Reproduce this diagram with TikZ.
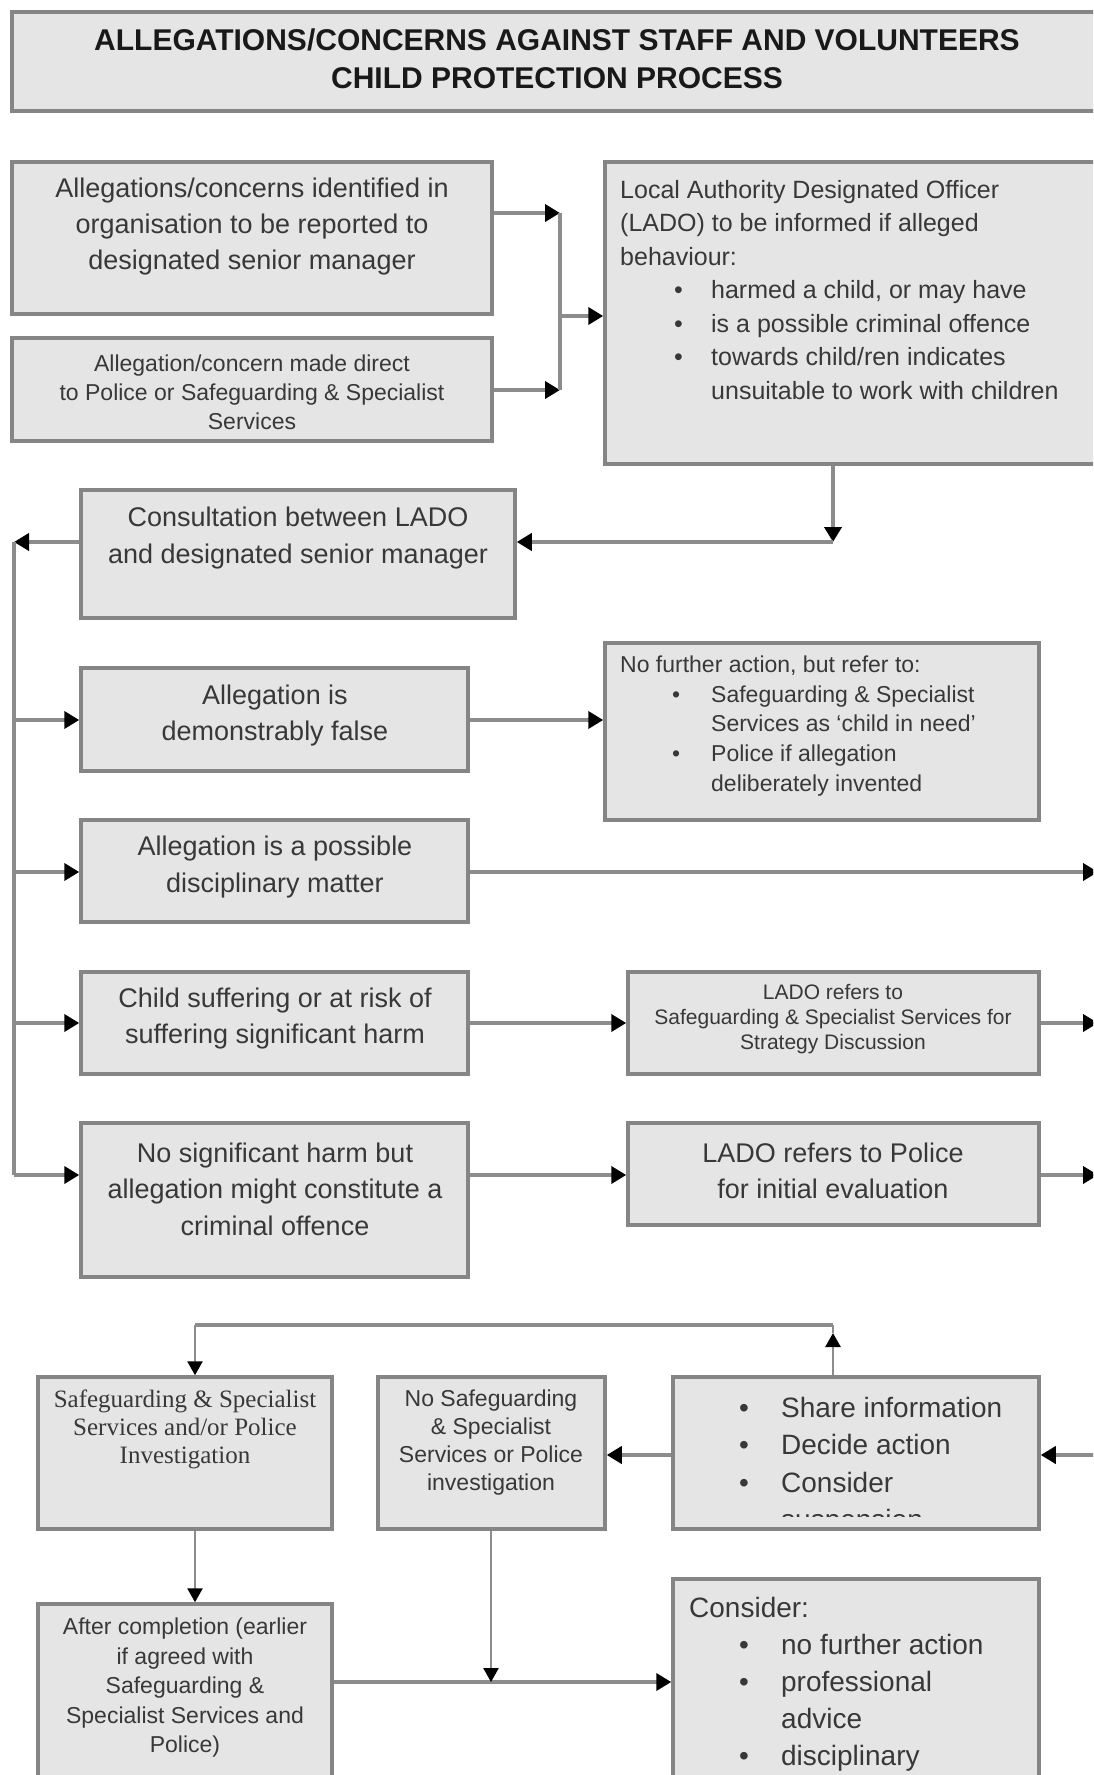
\documentclass[tikz,border=0pt]{standalone}
\usepackage{fontspec}
\setmainfont{Liberation Sans}
\newfontfamily\serifface{Liberation Serif}
\usetikzlibrary{arrows.meta,fit}
\definecolor{boxfill}{HTML}{E5E5E5}
\definecolor{boxline}{HTML}{858585}
\definecolor{txt}{HTML}{383838}
\definecolor{conngray}{HTML}{8C8C8C}
\newcommand{\fs}[2]{\fontsize{#1}{#2}\selectfont}
\newcommand{\bul}[2]{\hspace*{#1}\makebox[#2][l]{\textbullet}}
\begin{document}
\begin{tikzpicture}[x=1pt,y=-1pt,
  box/.style={draw=boxline, fill=boxfill, line width=3.5pt, inner sep=0pt, rectangle},
  t/.style={text=txt, inner sep=0pt, align=center},
  tl/.style={text=txt, inner sep=0pt, align=left, anchor=west},
  conn/.style={draw=conngray, line width=4.5pt, -{Triangle[length=15pt,width=17pt,color=black]}},
  gline/.style={draw=conngray, line width=3.5pt},
  thinconn/.style={draw=conngray, line width=2.5pt, -{Triangle[length=14pt,width=15pt,color=black]}},
  thinline/.style={draw=conngray, line width=2.5pt}]
\useasboundingbox (0,0) rectangle (1093,1775);
\fill[white] (0,0) rectangle (1093,1775);
\clip (0,0) rectangle (1093,1775);

% title
\node[box, fit={(12,12) (1110,111)}] (title) {};
\node[t, text=black!90, font=\bfseries\fs{30}{38}] (titlet) at (557,59) {ALLEGATIONS/CONCERNS AGAINST STAFF AND VOLUNTEERS\\CHILD PROTECTION PROCESS};

% top boxes
\node[box, fit={(12,162) (492,314)}] (boxA) {};
\node[t, font=\fs{27}{36}] (boxAt) at (252,227) {Allegations/concerns identified in\\organisation to be reported to\\designated senior manager};
\node[box, fit={(12,338) (492,441)}] (boxB) {};
\node[t, font=\fs{23}{29}] (boxBt) at (252,392) {Allegation/concern made direct\\to Police or Safeguarding \& Specialist\\Services};

\node[box, fit={(605,162) (1110,464)}] (lado) {};
\node[tl, font=\fs{25}{33.5}] (ladot) at (620,290) {Local Authority Designated Officer\\(LADO) to be informed if alleged\\behaviour:\\\bul{54pt}{37pt}harmed a child, or may have\\\bul{54pt}{37pt}is a possible criminal offence\\\bul{54pt}{37pt}towards child/ren indicates\\\hspace*{91pt}unsuitable to work with children};

\coordinate (jA) at (560,213);
\coordinate (jB) at (560,390);
\coordinate (jM) at (560,316);
\draw[conn] (boxA.east |- jA) -- (jA);
\draw[conn] (boxB.east |- jB) -- (jB);
\draw[gline] (jA) -- (jB);
\draw[conn] (jM) -- (lado.west |- jM);

% consultation
\node[box, fit={(81,490) (515,618)}] (consult) {};
\node[t, font=\fs{27}{37}] (consultt) at (298,538) {Consultation between LADO\\and designated senior manager};
\coordinate (jC) at (833,542);
\draw[conn] (lado.south -| jC) -- (jC);
\draw[conn] (jC) -- (consult.east |- jC);
\coordinate (L0) at (14,542);
\draw[conn] (consult.west |- L0) -- (L0);
\coordinate (L1) at (14,720);
\coordinate (L2) at (14,872);
\coordinate (L3) at (14,1023);
\coordinate (L4) at (14,1175);
\draw[gline] (L0) -- (L4);

% branch boxes
\node[box, fit={(81,668) (468,771)}] (false) {};
\node[t, font=\fs{27}{36}] (falset) at (275,716) {Allegation is\\demonstrably false};
\node[box, fit={(605,643) (1039,820)}] (nfa) {};
\node[tl, font=\fs{23}{29.75}] (nfat) at (620,726) {No further action, but refer to:\\\bul{52pt}{39pt}Safeguarding \& Specialist\\\hspace*{91pt}Services as ‘child in need’\\\bul{52pt}{39pt}Police if allegation\\\hspace*{91pt}deliberately invented};

\node[box, fit={(81,820) (468,922)}] (disc) {};
\node[t, font=\fs{27}{37}] (disct) at (275,867) {Allegation is a possible\\disciplinary matter};

\node[box, fit={(81,972) (468,1074)}] (child) {};
\node[t, font=\fs{27}{36}] (childt) at (275,1019) {Child suffering or at risk of\\suffering significant harm};
\node[box, fit={(628,972) (1039,1074)}] (ladosss) {};
\node[t, font=\fs{21}{25}] (ladossst) at (833,1019) {LADO refers to\\Safeguarding \& Specialist Services for\\Strategy Discussion};

\node[box, fit={(81,1123) (468,1277)}] (nosig) {};
\node[t, font=\fs{27}{36.5}] (nosigt) at (275,1189) {No significant harm but\\allegation might constitute a\\criminal offence};
\node[box, fit={(628,1123) (1039,1225)}] (ladopol) {};
\node[t, font=\fs{27}{36}] (ladopolt) at (833,1171) {LADO refers to Police\\for initial evaluation};

\coordinate (R2) at (1098,872);
\coordinate (R3) at (1098,1023);
\coordinate (R4) at (1098,1175);
\draw[conn] (L1) -- (false.west |- L1);
\draw[conn] (L2) -- (disc.west |- L2);
\draw[conn] (L3) -- (child.west |- L3);
\draw[conn] (L4) -- (nosig.west |- L4);
\draw[conn] (false.east |- L1) -- (nfa.west |- L1);
\draw[conn] (disc.east |- L2) -- (R2);
\draw[conn] (child.east |- L3) -- (ladosss.west |- L3);
\draw[conn] (ladosss.east |- L3) -- (R3);
\draw[conn] (nosig.east |- L4) -- (ladopol.west |- L4);
\draw[conn] (ladopol.east |- L4) -- (R4);

% bottom section
\node[box, fit={(38,1377) (332,1529)}] (sss) {};
\node[t, font=\serifface\fs{25}{28}] (ssst) at (185,1429) {Safeguarding \& Specialist\\Services and/or Police\\Investigation};
\node[box, fit={(378,1377) (605,1529)}] (nosss) {};
\node[t, font=\fs{23}{28}] (nossst) at (491,1443) {No Safeguarding\\\& Specialist\\Services or Police\\investigation};
\node[box, fit={(673,1377) (1039,1529)}] (share) {};
\begin{scope}
\clip (673,1380) rectangle (1039,1516);
\node[tl, font=\fs{28}{37.5}] (sharet) at (739,1466) {\makebox[42pt][l]{\textbullet}Share information\\\makebox[42pt][l]{\textbullet}Decide action\\\makebox[42pt][l]{\textbullet}Consider\\\hspace*{42pt}suspension};
\end{scope}

\node[box, fit={(38,1604) (332,1800)}] (after) {};
\node[t, font=\fs{23}{29.5}] (aftert) at (185,1688) {After completion (earlier\\if agreed with\\Safeguarding \&\\Specialist Services and\\Police)};
\node[box, fit={(673,1579) (1039,1800)}] (consider) {};
\node[tl, font=\fs{28}{37}] (considert) at (689,1684) {Consider:\\\bul{50pt}{42pt}no further action\\\bul{50pt}{42pt}professional\\\hspace*{92pt}advice\\\bul{50pt}{42pt}disciplinary};

\coordinate (R5) at (1098,1455);
\draw[conn] (R5) -- (share.east |- R5);
\draw[conn] (share.west |- R5) -- (nosss.east |- R5);
\coordinate (T1) at (833,1333);
\coordinate (T2) at (833,1325);
\coordinate (T3) at (195,1325);
\draw[thinconn] (share.north -| T1) -- (T1);
\draw[thinline] (T1) -- (T2);
\draw[gline] (T2) -- (T3);
\draw[thinconn] (T3) -- (sss.north -| T3);
\draw[thinconn] (sss.south -| T3) -- (after.north -| T3);
\coordinate (B1) at (491,1682);
\draw[conn] (after.east |- B1) -- (consider.west |- B1);
\draw[thinconn] (nosss.south -| B1) -- (B1);
\end{tikzpicture}
\end{document}
